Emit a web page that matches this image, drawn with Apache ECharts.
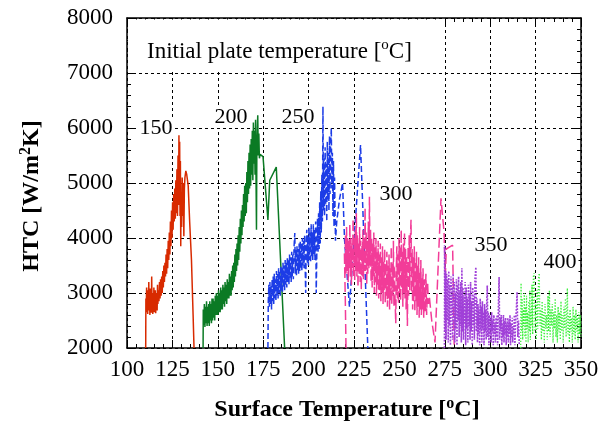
<!DOCTYPE html>
<html>
<head>
<meta charset="utf-8">
<script src="https://cdn.jsdelivr.net/npm/echarts@6/dist/echarts.min.js"></script>
<style>html,body{margin:0;padding:0;background:#fff}#c{width:603px;height:425px}</style>
</head>
<body>
<div id="c"></div>
<script>
// ---- Data: [surface temperature (°C), HTC (W/m2K)] ----
const xTicks = [100, 125, 150, 175, 200, 225, 250, 275, 300, 325, 350];
const yTicks = [2000, 3000, 4000, 5000, 6000, 7000, 8000];
const seriesNames = ['150', '200', '250', '300', '350', '400'];

const htc150 = [
[110.3,2000],[110.4,2900],[110.6,2650],[110.8,3100],[111.0,2700],[111.2,2980],[111.4,2620],[111.6,3050],[111.8,2750],[112.0,3200],
[112.2,2680],[112.4,2900],[112.6,2600],[112.8,3080],[113.0,2720],[113.2,2950],[113.4,2640],[113.6,3300],[113.8,2700],[114.0,3000],
[114.2,2620],[114.4,2850],[114.6,2700],[114.8,3100],[115.0,2650],[115.2,2950],[115.4,2700],[115.6,3050],[115.8,2630],[116.0,2900],
[116.2,2750],[116.4,3000],[116.6,2680],[116.8,3150],[117.0,2800],[117.3,3050],[117.6,2850],[117.9,3200],[118.2,2900],[118.5,3250],
[118.8,2950],[119.1,3300],[119.4,3000],[119.7,3400],[120.0,3100],[120.3,3500],[120.6,3200],[120.9,3550],[121.2,3300],[121.5,3700],
[121.8,3350],[122.1,3800],[122.4,3450],[122.7,3950],[123.0,3600],[123.3,4100],[123.6,3700],[123.9,4300],[124.2,3850],[124.5,4500],
[124.8,4000],[125.1,4650],[125.4,4150],[125.7,4800],[126.0,4300],[126.3,4900],[126.6,4350],[126.9,5050],[127.2,4450],[127.5,5250],
[127.8,4400],[128.1,5500],[128.4,4600],[128.6,5870],[128.8,4900],[129.0,5750],[129.2,4400],[129.4,5400],[129.6,3850],[129.8,4800],
[130.1,4200],[130.4,5100],[130.7,4400],[131.0,5000],[131.3,4030],[131.6,4900],[131.9,5100],[132.4,5220],[132.9,5150],[133.7,4950],
[134.5,4300],[135.5,3600],[136.4,2600],[136.9,2000]
];

const htc200 = [
[141.9,2000],[142.0,2700],[142.3,2420],[142.6,2800],[142.9,2380],[143.2,2750],[143.5,2450],[143.8,2850],[144.1,2400],[144.4,2750],
[144.7,2450],[145.0,2800],[145.3,2400],[145.6,2850],[145.9,2500],[146.2,2800],[146.5,2450],[146.8,2900],[147.1,2500],[147.4,2900],
[147.7,2550],[148.0,2850],[148.3,2500],[148.6,2950],[148.9,2600],[149.2,3000],[149.5,2600],[149.8,2950],[150.1,2600],[150.4,3050],
[150.7,2650],[151.0,3000],[151.3,2650],[151.6,3100],[151.9,2700],[152.2,3050],[152.5,2700],[152.8,3150],[153.1,2800],[153.4,3100],
[153.7,2750],[154.0,3200],[154.3,2850],[154.6,3150],[154.9,2800],[155.2,3250],[155.5,2900],[155.8,3200],[156.1,2900],[156.4,3350],
[156.7,2950],[157.0,3300],[157.3,2950],[157.6,3400],[157.9,3050],[158.2,3500],[158.5,3100],[158.8,3550],[159.1,3200],[159.4,3700],
[159.7,3300],[160.0,3800],[160.3,3400],[160.6,3900],[160.9,3500],[161.2,4050],[161.5,3600],[161.8,4200],[162.1,3750],[162.4,4350],
[162.7,3900],[163.0,4500],[163.3,4050],[163.6,4600],[163.9,4200],[164.2,4800],[164.5,4300],[164.8,4950],[165.1,4400],[165.4,5000],
[165.7,4450],[166.0,5200],[166.3,4650],[166.6,5400],[166.9,4800],[167.2,5550],[167.5,4900],[167.8,5700],[168.1,4950],[168.4,5800],
[168.7,5150],[169.0,5950],[169.3,5050],[169.6,6100],[169.9,5350],[170.2,5950],[170.5,5150],[170.8,6150],[171.1,4900],[171.3,4150],
[171.5,5600],[171.8,6000],[172.0,6230],[172.3,5500],[172.6,5900],[172.9,5450],[173.3,5520],[174.9,5480],[177.6,4330],[178.6,5050],
[182.2,5290],[186.8,2000]
];

const htc250 = [
[177.6,2000],[177.8,2850],[178.1,3150],[178.4,2750],[178.7,3200],[179.0,2800],[179.3,3150],[179.6,2700],[179.9,3250],[180.2,2850],
[180.5,3300],[180.8,2800],[181.1,3350],[181.4,2900],[181.7,3250],[182.0,2850],[182.3,3400],[182.6,2950],[182.9,3350],[183.2,2900],
[183.5,3450],[183.8,3000],[184.1,3400],[184.4,2950],[184.7,3500],[185.0,3050],[185.3,3450],[185.6,3000],[185.9,3550],[186.2,3100],
[186.5,3500],[186.8,3050],[187.1,3600],[187.4,3150],[187.7,3550],[188.0,3100],[188.3,3650],[188.6,3200],[188.9,3600],[189.2,3150],
[189.5,3700],[189.8,3250],[190.1,3650],[190.4,3200],[190.7,3750],[191.0,3300],[191.3,3700],[191.6,3250],[192.0,3850],[192.4,4090],
[192.7,3350],[193.0,3800],[193.3,3300],[193.6,3850],[193.9,3400],[194.2,3800],[194.5,3350],[194.8,3900],[195.1,3400],[195.4,3950],
[195.7,3450],[196.0,3900],[196.3,3400],[196.6,4000],[196.9,3500],[197.2,3950],[197.5,3450],[197.8,4050],[198.1,3500],[198.4,3000],
[198.7,3900],[199.0,4150],[199.3,3550],[199.6,4050],[199.9,3500],[200.2,4200],[200.5,3600],[200.8,4100],[201.1,3550],[201.4,4250],
[201.7,3650],[202.0,4100],[202.3,3600],[202.6,4250],[202.9,3700],[203.2,4150],[203.5,3600],[203.9,4300],[204.2,3000],[204.6,3900],
[204.9,4350],[205.2,3750],[205.5,4450],[205.8,3800],[206.1,4650],[206.4,3900],[206.7,4850],[207.0,4100],[207.3,5150],[207.6,4300],
[207.9,6390],[208.2,4500],[208.5,5450],[208.8,4400],[209.1,5650],[209.4,4600],[209.7,5350],[210.0,4300],[210.3,5750],[210.6,4700],
[210.9,5550],[211.2,4500],[211.5,5850],[211.8,4800],[212.1,5650],[212.5,6000],[212.8,4900],[213.1,5550],[213.4,4400],[213.7,5400],
[214.0,4200],[214.3,5100],[214.8,3950],[215.5,4300],[217.0,4700],[218.7,5000],[219.8,3960],[222.5,2750],[228.6,5690],[232.6,2020],
[232.8,2000]
];

const htc300 = [
[220.6,2000],[220.2,2900],[219.7,3750],[220.0,3250],[220.3,4050],[220.6,3350],[220.9,4200],[221.2,3400],[221.5,4000],[221.8,3200],
[222.1,3950],[222.4,3450],[222.7,4250],[223.0,3300],[223.3,4000],[223.6,3150],[223.9,3900],[224.2,3450],[224.5,4350],[224.8,3300],
[225.1,4000],[225.4,3200],[225.7,4150],[226.0,3400],[226.3,4450],[226.6,3300],[226.9,4050],[227.2,3100],[227.5,3900],[227.8,3350],
[228.1,4200],[228.4,3200],[228.7,3950],[229.0,3050],[229.3,3850],[229.6,3300],[229.9,4150],[230.2,3250],[230.5,4000],[230.8,3400],
[231.1,4550],[231.4,3400],[231.7,4100],[232.0,3150],[232.3,3950],[232.6,3350],[232.9,4300],[233.2,3450],[233.5,4750],[233.8,3500],
[234.1,4150],[234.4,3200],[234.7,4000],[235.0,3100],[235.3,3900],[235.6,3300],[235.9,4100],[236.2,3000],[236.5,3850],[236.8,3200],
[237.1,4000],[237.4,2950],[237.7,3750],[238.0,3150],[238.3,3950],[238.6,2900],[238.9,3700],[239.2,3050],[239.5,3900],[239.8,2850],
[240.1,3650],[240.4,3000],[240.7,3850],[241.0,2800],[241.3,3600],[241.6,3050],[241.9,3800],[242.2,2800],[242.5,3550],[242.8,2950],
[243.1,3750],[243.4,2750],[243.7,3500],[244.0,2900],[244.3,3700],[244.6,2700],[244.9,3450],[245.2,2850],[245.5,3850],[245.8,2800],
[246.1,3550],[246.4,2950],[246.7,3950],[247.0,2750],[247.3,3500],[247.6,2900],[248.0,2450],[248.3,3450],[248.6,3850],[248.9,2900],
[249.2,3700],[249.5,2800],[249.8,4000],[250.1,3000],[250.4,3850],[250.7,2850],[251.0,4150],[251.3,3100],[251.6,3750],[251.9,2750],
[252.2,3900],[252.5,3000],[252.8,4100],[253.1,2900],[253.4,3800],[253.7,2700],[254.0,3650],[254.4,2400],[254.8,3850],[255.1,2950],
[255.4,4050],[255.7,3050],[256.0,3950],[256.4,4330],[256.7,3000],[257.0,3800],[257.3,2700],[257.6,3650],[257.9,2850],[258.2,3850],
[258.5,2650],[258.8,3550],[259.1,2850],[259.4,3750],[259.7,2600],[260.0,3500],[260.3,2750],[260.6,3650],[260.9,2550],[261.2,3400],
[261.5,2700],[261.8,3600],[262.1,2600],[262.4,3300],[262.7,2700],[263.0,3450],[263.4,2550],[263.8,3250],[264.2,2650],[264.6,3350],
[265.0,2600],[265.5,3200],[266.0,2800],[266.5,2930],[267.8,2500],[269.6,2100],[272.9,4720],[274.6,4100],[275.3,3300],[275.8,3800],
[279.3,3870],[280.2,2000]
];

const htc350 = [
[274.8,2000],[274.9,3870],[275.1,2300],[275.4,3400],[275.7,2150],[276.0,3350],[276.3,2500],[276.6,3250],[276.9,2100],[277.2,3400],
[277.5,2400],[277.8,3150],[278.1,2050],[278.4,3300],[278.7,2600],[279.0,3100],[279.3,2150],[279.6,3350],[279.9,2450],[280.2,3200],
[280.5,2100],[280.8,3000],[281.1,2350],[281.4,3250],[281.7,2050],[282.0,3150],[282.3,2500],[282.6,3300],[282.9,2200],[283.2,3050],
[283.5,2400],[283.8,3200],[284.1,2100],[284.4,3450],[284.7,2300],[285.0,3100],[285.3,2150],[285.6,2950],[285.9,2450],[286.2,3200],
[286.5,2050],[286.8,3100],[287.1,2350],[287.4,2900],[287.7,2100],[288.0,3150],[288.3,2400],[288.6,3000],[288.9,2150],[289.2,3200],
[289.5,2300],[289.8,2850],[290.1,2050],[290.4,3100],[290.7,2400],[291.0,2950],[291.3,2150],[291.6,3250],[292.1,3470],[292.4,2300],
[292.7,2900],[293.0,2100],[293.3,2800],[293.6,2250],[293.9,2700],[294.2,2050],[294.5,2900],[294.8,2300],[295.1,2750],[295.4,2100],
[295.7,2850],[296.0,2350],[296.3,2650],[296.6,2050],[296.9,2800],[297.2,2300],[297.5,2700],[297.8,2150],[298.1,2850],[298.4,3140],
[298.7,2200],[299.0,2650],[299.3,2050],[299.6,2600],[299.9,2250],[300.2,2550],[300.5,2100],[300.8,2650],[301.1,2300],[301.4,2500],
[301.7,2050],[302.0,2600],[302.3,2250],[302.6,2450],[302.9,2100],[303.2,2550],[303.5,2200],[303.8,2600],[304.1,2050],[304.5,2750],
[304.9,3290],[305.2,2150],[305.5,2550],[305.8,2300],[306.1,2600],[306.4,2050],[306.7,2450],[307.0,2200],[307.3,2600],[307.6,2100],
[307.9,2500],[308.2,2250],[308.5,2550],[308.8,2050],[309.1,2450],[309.4,2200],[309.7,2550],[310.0,2100],[310.3,2500],[310.6,2250],
[310.9,2600],[311.2,2050],[311.5,2450],[311.8,2200],[312.1,2550],[312.4,2100],[312.7,2400],[313.0,2250],[313.3,2600],[313.6,2050],
[314.0,2500],[314.4,2700],[314.8,3020],[315.2,2200],[315.6,2500],[316.0,2050]
];

const htc400 = [
[316.8,2000],[317.0,3180],[317.3,2300],[317.6,2900],[317.9,2150],[318.2,2700],[318.5,2400],[318.8,3000],[319.1,2200],[319.4,2750],
[319.7,2100],[320.0,2950],[320.3,2350],[320.6,2650],[320.9,2100],[321.2,2850],[321.5,2300],[321.8,3050],[322.1,2150],[322.4,2700],
[322.7,2400],[323.0,3150],[323.4,2250],[323.8,3300],[324.2,3360],[324.6,2300],[325.0,2800],[325.4,2150],[325.8,3050],[326.2,2350],
[326.6,3250],[327.0,3360],[327.4,2400],[327.8,2700],[328.2,2150],[328.6,2850],[329.0,2300],[329.4,2650],[329.8,2100],[330.2,2800],
[330.6,2350],[331.0,2600],[331.4,2150],[331.8,2950],[332.2,2300],[332.6,3050],[333.0,2200],[333.4,2700],[333.8,2400],[334.2,2800],
[334.6,2100],[335.0,2650],[335.4,2350],[335.8,2900],[336.2,2200],[336.6,2600],[337.0,2100],[337.4,2750],[337.8,2300],[338.2,2650],
[338.6,2150],[339.0,2850],[339.4,2300],[339.8,2600],[340.2,2100],[340.6,2750],[341.0,2350],[341.4,2900],[341.8,2200],[342.2,2800],
[342.5,3090],[342.8,2250],[343.2,2600],[343.6,2100],[344.0,2700],[344.4,2300],[344.8,2550],[345.2,2100],[345.6,2750],[346.0,2250],
[346.4,2600],[346.8,2150],[347.2,2700],[347.6,2300],[348.0,2550],[348.4,2100],[348.8,2650],[349.2,2250],[349.6,2600],[350.0,2200]
];

// ---- Chart ----
const FONT = '"Liberation Serif", "Times New Roman", serif';
const chart = echarts.init(document.getElementById('c'), null, {renderer: 'canvas'});

const gridLine = {show: true, lineStyle: {color: '#000', width: 1, type: [3, 3]}};
const tickLabel = {show: true, color: '#000', fontFamily: FONT, fontSize: 23, formatter: v => String(v)};
function axisBase(extra) {
  return Object.assign({
    type: 'value',
    axisLine: {show: true, onZero: false, lineStyle: {color: '#000', width: 1.5}},
    axisTick: {show: true, inside: true, length: 8, lineStyle: {color: '#000', width: 1}},
    minorTick: {show: true, splitNumber: 5, length: 4, lineStyle: {color: '#000', width: 1}},
    axisLabel: tickLabel,
  }, extra);
}

const styles = [
  {color: '#d82a00', type: 'solid', width: 1.5},
  {color: '#0b7a24', type: 'solid', width: 1.5},
  {color: '#1c3ce6', type: [6, 3], width: 1.5},
  {color: '#f23c98', type: [10, 4], width: 1.5},
  {color: '#a040d8', type: [1.8, 1.4], width: 1.6},
  {color: '#3cf03c', type: [1.2, 1.8], width: 1.3}
];
const datas = [htc150, htc200, htc250, htc300, htc350, htc400];

const series = datas.map((d, i) => ({
  name: seriesNames[i],
  type: 'line',
  data: d,
  showSymbol: false,
  symbol: 'none',
  smooth: false,
  clip: true,
  lineStyle: styles[i],
  z: 3 + i,
  animation: false
}));

const labelStyle = (t, x, y) => ({
  type: 'text', x: x, y: y, z: 50,
  style: {text: t, fontFamily: FONT, fontSize: 22, fill: '#000', align: 'center', verticalAlign: 'middle',
          backgroundColor: '#fff', padding: [0, 2]}
});
const supRich = (size, weight) => ({s: {fontFamily: FONT, fontSize: size, fontWeight: weight, fill: '#000', verticalAlign: 'top', lineHeight: 12}});

chart.setOption({
  animation: false,
  backgroundColor: '#fff',
  grid: {left: 127, right: 22, top: 18, bottom: 77, containLabel: false},
  xAxis: [
    axisBase({position: 'bottom', min: xTicks[0], max: xTicks[xTicks.length - 1], interval: 25,
      splitLine: gridLine, axisLabel: Object.assign({}, tickLabel, {margin: 10})}),
    axisBase({position: 'top', min: xTicks[0], max: xTicks[xTicks.length - 1], interval: 25,
      splitLine: {show: false}, axisLabel: {show: false}})
  ],
  yAxis: [
    axisBase({position: 'left', min: yTicks[0], max: yTicks[yTicks.length - 1], interval: 1000,
      splitLine: gridLine, axisLabel: Object.assign({}, tickLabel, {margin: 14})}),
    axisBase({position: 'right', min: yTicks[0], max: yTicks[yTicks.length - 1], interval: 1000,
      splitLine: {show: false}, axisLabel: {show: false}})
  ],
  series: series,
  graphic: [
    {type: 'rect', z: 40, shape: {x: 128, y: 19.5, width: 313, height: 52}, style: {fill: '#fff'}},
    {type: 'text', z: 50, x: 147, y: 52,
      style: {text: 'Initial plate temperature [{s|o}C]', fontFamily: FONT, fontSize: 23, fill: '#000',
        align: 'left', verticalAlign: 'middle', lineHeight: 28, rich: supRich(15, 'normal')}},
    labelStyle(seriesNames[0], 156, 128),
    labelStyle(seriesNames[1], 231, 117),
    labelStyle(seriesNames[2], 298, 117),
    labelStyle(seriesNames[3], 396, 194),
    labelStyle(seriesNames[4], 491, 245),
    labelStyle(seriesNames[5], 560, 262),
    {type: 'text', z: 50, x: 32, y: 196, rotation: Math.PI / 2,
      style: {text: 'HTC [W/m{s|2}K]', fontFamily: FONT, fontSize: 24, fontWeight: 'bold', fill: '#000',
        align: 'center', verticalAlign: 'middle', lineHeight: 28, rich: supRich(16, 'bold')}},
    {type: 'text', z: 50, x: 347, y: 410,
      style: {text: 'Surface Temperature [{s|o}C]', fontFamily: FONT, fontSize: 24, fontWeight: 'bold', fill: '#000',
        align: 'center', verticalAlign: 'middle', lineHeight: 28, rich: supRich(16, 'bold')}}
  ]
});
</script>
</body>
</html>
